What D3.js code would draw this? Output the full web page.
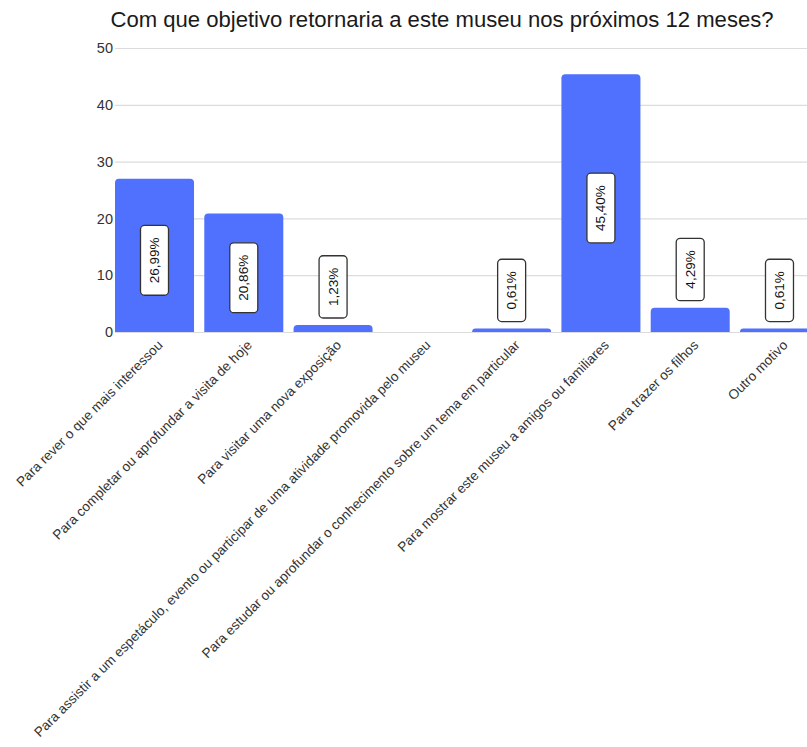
<!DOCTYPE html>
<html>
<head>
<meta charset="utf-8">
<script src="https://cdn.jsdelivr.net/npm/d3@7"></script>
<style>
  html, body { margin: 0; padding: 0; background: #ffffff; overflow: hidden; }
  svg { display: block; font-family: "Liberation Sans", Arial, sans-serif; }
</style>
</head>
<body>
<svg id="chart" width="807" height="747"></svg>
<script>
const titleText = "Com que objetivo retornaria a este museu nos próximos 12 meses?";

const categories = [
  "Para rever o que mais interessou",
  "Para completar ou aprofundar a visita de hoje",
  "Para visitar uma nova exposição",
  "Para assistir a um espetáculo, evento ou participar de uma atividade promovida pelo museu",
  "Para estudar ou aprofundar o conhecimento sobre um tema em particular",
  "Para mostrar este museu a amigos ou familiares",
  "Para trazer os filhos",
  "Outro motivo"
];

const values = [26.99, 20.86, 1.23, 0, 0.61, 45.40, 4.29, 0.61];

const valueLabels = ["26,99%", "20,86%", "1,23%", "", "0,61%", "45,40%", "4,29%", "0,61%"];

const yTicks = [0, 10, 20, 30, 40, 50];

const svg = d3.select("#chart");

const plotLeft = 115, plotRight = 819, plotTop = 48, plotBottom = 332;

const x = d3.scaleBand()
  .domain(categories)
  .range([plotLeft, plotRight])
  .paddingInner(0.115)
  .paddingOuter(0);

const y = d3.scaleLinear()
  .domain([0, 50])
  .range([plotBottom, plotTop]);

// title
svg.append("text")
  .attr("x", 442)
  .attr("y", 27)
  .attr("text-anchor", "middle")
  .attr("font-size", 22.1)
  .attr("fill", "#1a1a1a")
  .text(titleText);

// gridlines + y tick labels
const yAxis = d3.axisLeft(y)
  .tickValues(yTicks)
  .tickSize(-(807 - plotLeft + 10))
  .tickPadding(2)
  .tickFormat(d3.format("d"));

const yg = svg.append("g")
  .attr("transform", `translate(${plotLeft},0)`)
  .call(yAxis);
yg.select(".domain").remove();
yg.selectAll(".tick line")
  .attr("stroke", "#dcdcdc")
  .attr("stroke-width", 1.2);
yg.selectAll(".tick text")
  .attr("font-size", 14.5)
  .attr("fill", "#333");

// bars with rounded tops
const r = 4;
function barPath(d, i) {
  const x0 = x(categories[i]), w = x.bandwidth();
  const y0 = y(d), y1 = y(0);
  const h = y1 - y0;
  if (h <= 0) return "";
  const rr = Math.min(r, h);
  return `M${x0},${y1}V${y0 + rr}Q${x0},${y0} ${x0 + rr},${y0}H${x0 + w - rr}Q${x0 + w},${y0} ${x0 + w},${y0 + rr}V${y1}Z`;
}

svg.append("g")
  .selectAll("path")
  .data(values)
  .join("path")
  .attr("d", barPath)
  .attr("fill", "#5070fe");

// x-axis category labels (rotated)
svg.append("g")
  .selectAll("text")
  .data(categories)
  .join("text")
  .attr("transform", d => `translate(${x(d) + x.bandwidth() / 2 + 9},${plotBottom + 14}) rotate(-45)`)
  .attr("text-anchor", "end")
  .attr("font-size", 13.6)
  .attr("fill", "#333")
  .text(d => d);

// value labels: vertical text in boxed tags
const labelG = svg.append("g");
values.forEach((v, i) => {
  const txt = valueLabels[i];
  if (!txt) return;
  const cx = x(categories[i]) + x.bandwidth() / 2;
  const g = labelG.append("g");
  const t = g.append("text")
    .attr("font-size", 13.5)
    .attr("fill", "#111")
    .attr("text-anchor", "middle")
    .attr("dominant-baseline", "central")
    .text(txt);
  const tw = t.node().getComputedTextLength();
  const boxH = tw + 24;  // along the bar
  const boxW = 28;
  const barH = y(0) - y(v);
  let cy;
  if (barH > boxH + 20) {
    cy = (y(v) + y(0)) / 2 + 5;
  } else {
    cy = y(v) - 7 - boxH / 2;
  }
  g.attr("transform", `translate(${cx},${cy}) rotate(-90)`);
  g.insert("rect", "text")
    .attr("x", -boxH / 2)
    .attr("y", -boxW / 2)
    .attr("width", boxH)
    .attr("height", boxW)
    .attr("rx", 4)
    .attr("fill", "#fff")
    .attr("stroke", "#333")
    .attr("stroke-width", 1.3);
});
</script>
</body>
</html>
